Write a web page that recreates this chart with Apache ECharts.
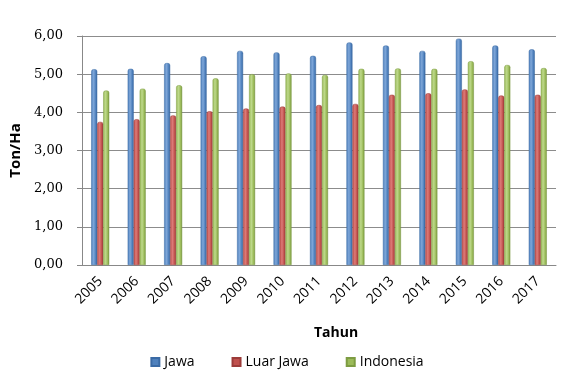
<!DOCTYPE html>
<html><head><meta charset="utf-8">
<script src="https://cdn.jsdelivr.net/npm/echarts@6/dist/echarts.min.js"></script>
<style>html,body{margin:0;padding:0;background:#fff}#c{width:574px;height:370px}</style>
</head><body><div id="c"></div>
<script>
const years = ['2005','2006','2007','2008','2009','2010','2011','2012','2013','2014','2015','2016','2017'];
const jawa = [5.13, 5.14, 5.29, 5.47, 5.61, 5.57, 5.48, 5.83, 5.75, 5.61, 5.93, 5.75, 5.65];
const luarJawa = [3.75, 3.82, 3.92, 4.03, 4.10, 4.15, 4.19, 4.22, 4.46, 4.50, 4.60, 4.44, 4.46];
const indonesia = [4.57, 4.62, 4.71, 4.89, 5.00, 5.02, 4.98, 5.14, 5.15, 5.14, 5.34, 5.24, 5.16];
const yTicks = [0, 1, 2, 3, 4, 5, 6];

const font = 'Open Sans, Liberation Sans, sans-serif';
function grad(dark, mid, light) {
  return new echarts.graphic.LinearGradient(0, 0, 1, 0, [
    {offset: 0, color: mid}, {offset: 0.4, color: light}, {offset: 0.75, color: mid}, {offset: 1, color: dark}
  ]);
}
const chart = echarts.init(document.getElementById('c'));
function mk(name, data, base, dark, light, border) {
  return {
    name, type: 'bar', data, barWidth: 6, barGap: '0%',
    itemStyle: {color: grad(dark, base, light), borderColor: border, borderWidth: 0.5, borderRadius: [2, 2, 0, 0]},
    emphasis: {disabled: true}
  };
}
chart.setOption({
  animation: false,
  textStyle: {fontFamily: font},
  color: ['#4F81BD', '#C0504D', '#9BBB59'],
  grid: {left: 82, right: 18, top: 36, bottom: 105},
  legend: {
    top: 350, left: 'center', itemWidth: 8, itemHeight: 8, itemGap: 37,
    icon: 'rect',
    textStyle: {fontSize: 14, color: '#000', fontFamily: font},
    data: [
      {name: 'Jawa', itemStyle: {color: '#4F81BD'}},
      {name: 'Luar Jawa', itemStyle: {color: '#C0504D'}},
      {name: 'Indonesia', itemStyle: {color: '#9BBB59'}}
    ]
  },
  xAxis: {
    type: 'category', data: years,
    name: 'Tahun', nameLocation: 'middle', nameGap: 61,
    nameTextStyle: {fontWeight: 'bold', fontSize: 14, color: '#000', padding: [0, 0, 0, 34]},
    axisLine: {lineStyle: {color: '#888'}},
    axisTick: {show: false},
    axisLabel: {rotate: 45, fontSize: 14, color: '#000', margin: 14, interval: 0}
  },
  yAxis: {
    type: 'value', min: 0, max: 6, interval: 1,
    name: 'Ton/Ha', nameLocation: 'middle', nameGap: 57,
    nameTextStyle: {fontWeight: 'bold', fontSize: 15, color: '#000'},
    axisLine: {show: true, lineStyle: {color: '#888'}},
    axisTick: {show: true, length: 5, lineStyle: {color: '#888'}},
    splitLine: {lineStyle: {color: '#8c8c8c', width: 1}},
    axisLabel: {fontSize: 13, color: '#000', margin: 19, fontFamily: 'DejaVu Serif',
      formatter: v => yTicks.includes(v) ? v.toFixed(2).replace('.', ',') : ''}
  },
  series: [
    mk('Jawa', jawa, '#4F81BD', '#34629b', '#7ea6d8', '#3a6aa5'),
    mk('Luar Jawa', luarJawa, '#C0504D', '#963a38', '#dc7a77', '#9c3b39'),
    mk('Indonesia', indonesia, '#9BBB59', '#748f3f', '#bdd88a', '#7d9c42')
  ]
});
</script></body></html>
